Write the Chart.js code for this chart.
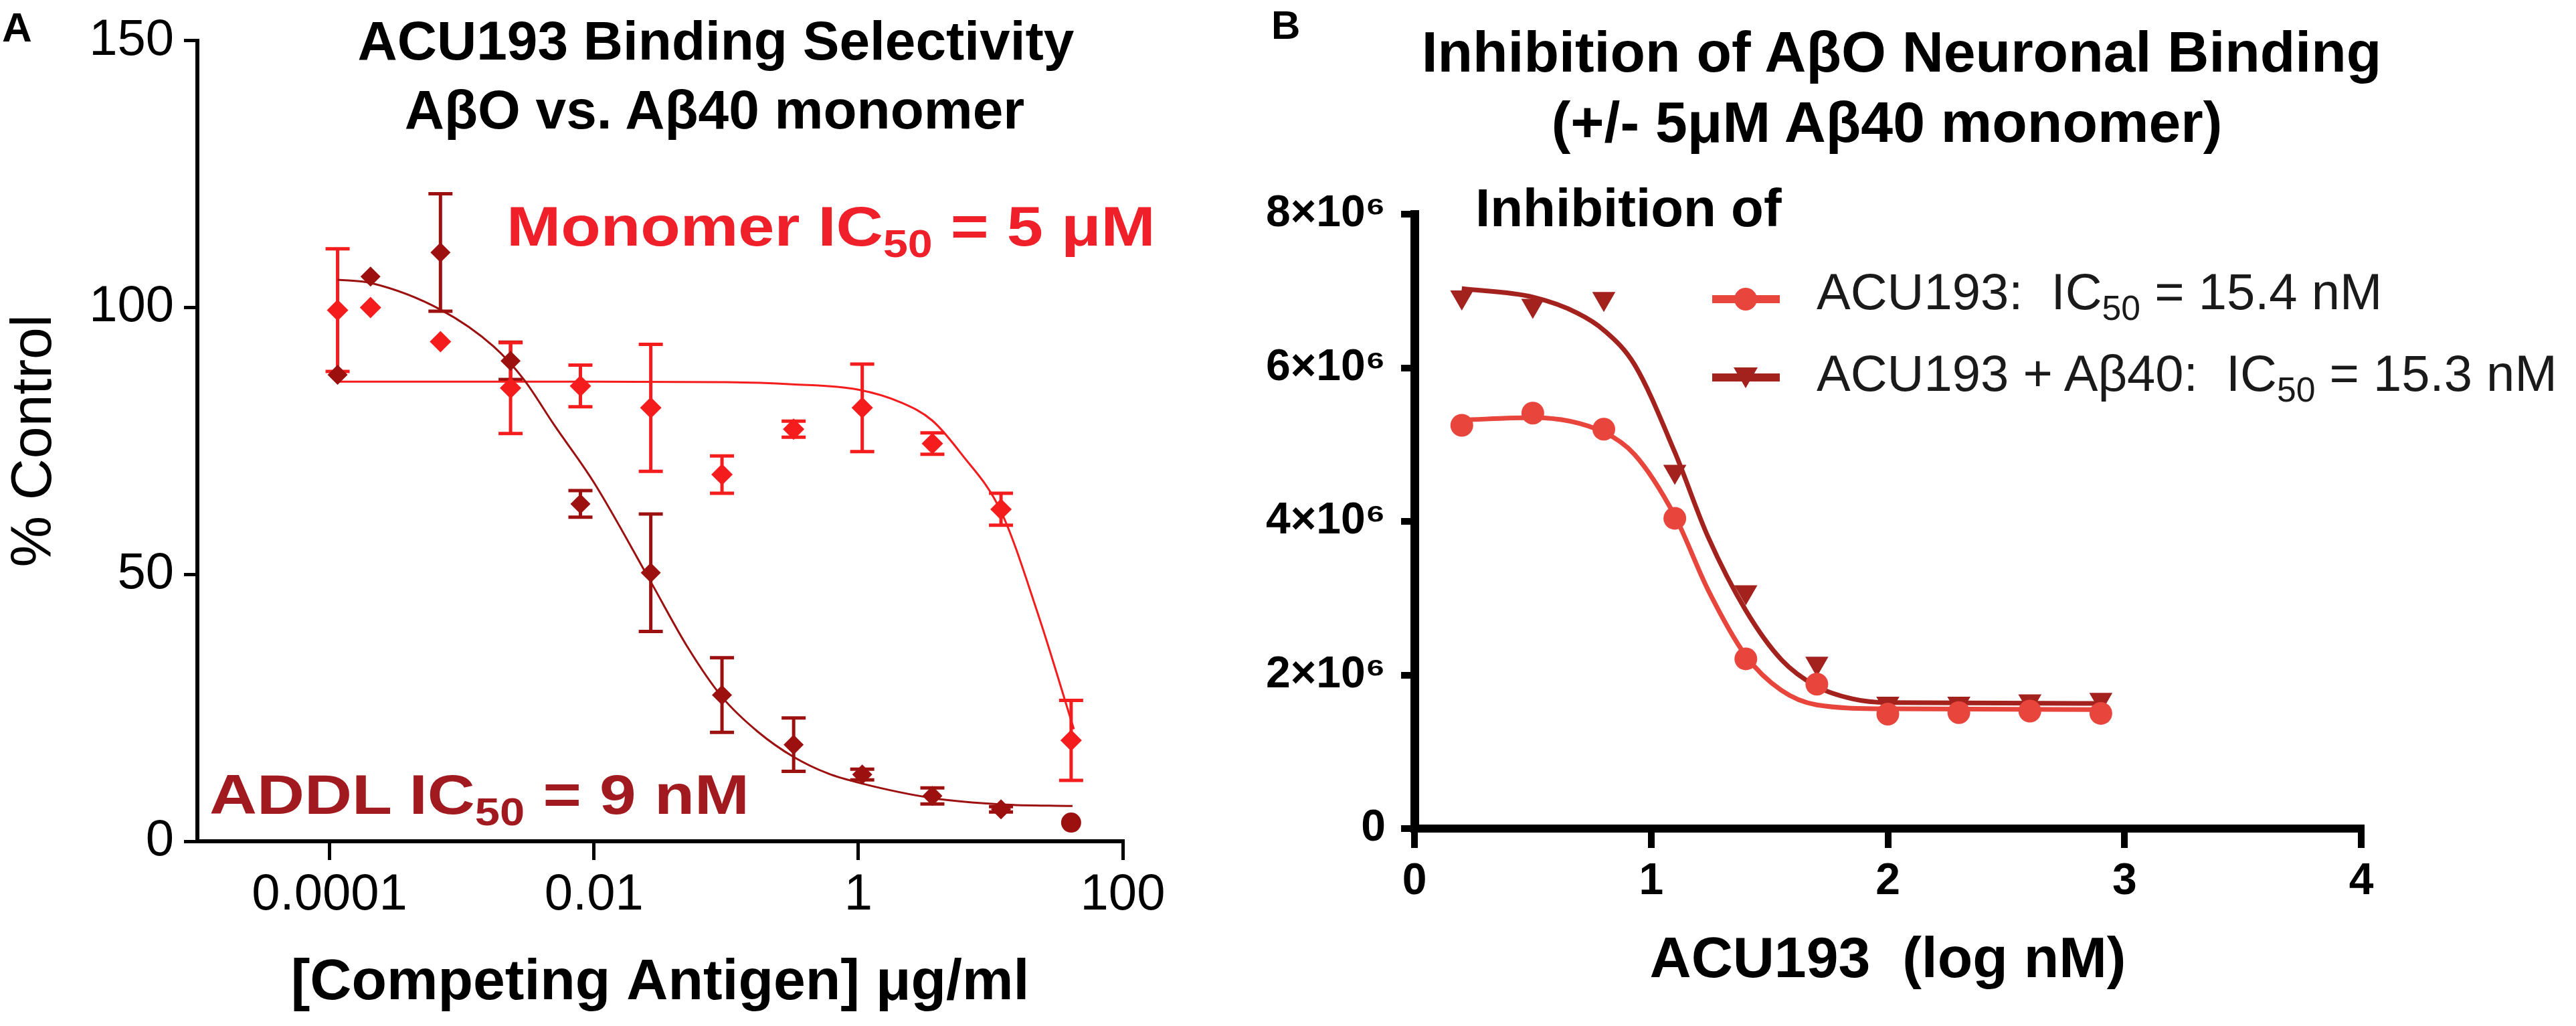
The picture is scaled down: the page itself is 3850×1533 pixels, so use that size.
<!DOCTYPE html>
<html lang="en">
<head>
<meta charset="UTF-8">
<title>ACU193 binding selectivity</title>
<style>
    body { margin: 0; background: #fff; }
    #page { position: relative; width: 3850px; height: 1533px; overflow: hidden; background: #fff;
            font-family: 'Liberation Sans', Arial, sans-serif; }
    .box { position: absolute; top: 0; height: 1533px; }
    .txt { position: absolute; white-space: nowrap; line-height: 1; }
    .b { font-weight: bold; }
    .c { transform: translateX(-50%); }
    sub { font-size: 0.68em; vertical-align: -0.3em; line-height: 0; }
    .mk { position: absolute; }
</style>
</head>
<body>
<div id="page">
    <div class="box" style="left:0;width:1850px"><canvas id="chartA"></canvas></div>
    <div class="box" style="left:1850px;width:2000px"><canvas id="chartB"></canvas></div>

    <div class="txt b" style="left:3px;top:10px;font-size:62px">A</div>
    <div class="txt b" style="left:1900px;top:8px;font-size:60px">B</div>

    <div class="txt b c" style="left:1070px;top:20px;font-size:82px">ACU193 Binding Selectivity</div>
    <div class="txt b c" style="left:1068px;top:123px;font-size:82px">A&beta;O vs. A&beta;40 monomer</div>
    <div class="txt b" style="left:757px;top:296px;font-size:84px;color:#f0202a;transform:scaleX(1.16);transform-origin:left">Monomer IC<sub>50</sub> = 5 &mu;M</div>
    <div class="txt b" style="left:313px;top:1145px;font-size:84px;color:#a11a1f;transform:scaleX(1.17);transform-origin:left">ADDL IC<sub>50</sub> = 9 nM</div>

    <div class="txt b c" style="left:2842px;top:34px;font-size:86px">Inhibition of A&beta;O Neuronal Binding</div>
    <div class="txt b c" style="left:2820px;top:139px;font-size:86px">(+/- 5&mu;M A&beta;40 monomer)</div>
    <div class="txt b" style="left:2205px;top:271px;font-size:80px">Inhibition of</div>

    <!-- legend -->
    <div class="mk" style="left:2559px;top:441px;width:101px;height:12px;background:#e8453c"></div>
    <div class="mk" style="left:2592px;top:430px;width:34px;height:34px;border-radius:50%;background:#e8453c"></div>
    <div class="txt" style="left:2715px;top:398px;font-size:76px;color:#1a1a1a">ACU193:&nbsp; IC<sub>50</sub> = 15.4 nM</div>
    <div class="mk" style="left:2559px;top:558px;width:101px;height:12px;background:#a3221e"></div>
    <div class="mk" style="left:2591px;top:549px;width:0;height:0;border-left:18px solid transparent;border-right:18px solid transparent;border-top:31px solid #a3221e"></div>
    <div class="txt" style="left:2715px;top:520px;font-size:76px;color:#1a1a1a">ACU193 + A&beta;40:&nbsp; IC<sub>50</sub> = 15.3 nM</div>
</div>

<script src="https://cdn.jsdelivr.net/npm/chart.js"></script>
<script>
    // ---- panel A: % control vs competing antigen (ug/ml) ----
    const concA = [1.15e-4, 2.04e-4, 6.9e-4, 2.34e-3, 7.9e-3, 0.0269, 0.093, 0.324, 1.07, 3.63, 12.0, 40.7];
    const monomerPct = [99.5, 100.0, 93.6, 84.9, 85.3, 81.2, 68.7, 77.2, 81.2, 74.5, 62.2, 18.9];
    const monomerErr = [11.5, 0, 0, 8.5, 3.9, 11.9, 3.5, 1.5, 8.2, 2.0, 3.0, 7.5];
    const addlPct = [87.4, 105.8, 110.3, 90.0, 63.2, 50.3, 27.4, 18.1, 12.5, 8.5, 6.0, 3.5];
    const addlErr = [0, 0, 11.0, 3.5, 2.5, 11.0, 7.0, 5.0, 1.0, 1.5, 0.5, 0];

    // fitted curves
    const monomerFitX = [1.15e-4, 0.01, 0.1, 0.316, 1.0, 2.1, 3.63, 6.0, 12.0, 22.9, 42.7];
    const monomerFitY = [86.1, 86.1, 86.0, 85.6, 84.6, 82.2, 78.8, 72.6, 61.8, 42.5, 21.0];
    const addlFitX = [1.15e-4, 2.04e-4, 6.9e-4, 1.74e-3, 2.95e-3, 5.0e-3, 0.01, 0.0269, 0.0513, 0.0933, 0.174, 0.324, 0.589, 1.07, 3.63, 12.3, 41.7];
    const addlFitY = [105.2, 104.6, 99.6, 92.7, 86.5, 78.0, 67.2, 48.6, 36.3, 27.0, 20.5, 15.8, 12.7, 10.8, 8.1, 6.9, 6.6];

    const ticksA_x = [0.0001, 0.01, 1, 100];
    const ticksA_y = [0, 50, 100, 150];

    // ---- panel B: binding signal vs ACU193 (log nM) ----
    const logB = [0.2, 0.5, 0.8, 1.1, 1.4, 1.7, 2.0, 2.3, 2.6, 2.9];
    const acu = [5.25e6, 5.41e6, 5.20e6, 4.04e6, 2.21e6, 1.88e6, 1.49e6, 1.51e6, 1.53e6, 1.50e6];
    const acuAb40 = [6.92e6, 6.81e6, 6.90e6, 4.65e6, 3.08e6, 2.15e6, 1.63e6, 1.63e6, 1.66e6, 1.68e6];

    const acuFitX = [0.2, 0.5, 0.8, 0.93, 1.1, 1.24, 1.4, 1.55, 1.7, 2.0, 2.9];
    const acuFitY = [5.32e6, 5.35e6, 5.16e6, 4.87e6, 4.07e6, 3.11e6, 2.25e6, 1.80e6, 1.61e6, 1.56e6, 1.55e6];
    const acuAbFitX = [0.2, 0.5, 0.69, 0.8, 0.93, 1.1, 1.24, 1.4, 1.55, 1.7, 1.85, 2.0, 2.9];
    const acuAbFitY = [7.03e6, 6.92e6, 6.71e6, 6.49e6, 6.04e6, 4.90e6, 3.80e6, 2.84e6, 2.20e6, 1.85e6, 1.69e6, 1.64e6, 1.63e6];

    const ticksB_y = [0, 2e6, 4e6, 6e6, 8e6];

    const FONT = "'Liberation Sans', Arial, sans-serif";
    const RED = '#f41c1c', DARK = '#9c1010';
    const CORAL = '#e8453c', MAROON = '#a3221e';

    const pts = (xs, ys) => xs.map((x, i) => ({ x: x, y: ys[i] }));

    // vertical error bars with caps, drawn under the markers
    const errorBars = {
        id: 'errorBars',
        beforeDatasetsDraw(chart) {
            const { ctx, scales } = chart;
            chart.data.datasets.forEach(ds => {
                if (!ds.errors) return;
                ctx.save();
                ctx.strokeStyle = ds.borderColor;
                ctx.lineWidth = 5;
                ds.data.forEach((p, i) => {
                    const e = ds.errors[i];
                    if (!e) return;
                    const px = scales.x.getPixelForValue(p.x);
                    const top = scales.y.getPixelForValue(p.y + e);
                    const bot = scales.y.getPixelForValue(p.y - e);
                    ctx.beginPath();
                    ctx.moveTo(px, top); ctx.lineTo(px, bot);
                    ctx.moveTo(px - 18, top); ctx.lineTo(px + 18, top);
                    ctx.moveTo(px - 18, bot); ctx.lineTo(px + 18, bot);
                    ctx.stroke();
                });
                ctx.restore();
            });
        }
    };

    Chart.defaults.font.family = FONT;
    Chart.defaults.color = '#000';

    new Chart(document.getElementById('chartA'), {
        type: 'scatter',
        data: {
            datasets: [
                {
                    label: 'ADDL',
                    data: pts(concA, addlPct),
                    errors: addlErr,
                    pointStyle: concA.map((c, i) => i === concA.length - 1 ? 'circle' : 'rectRot'),
                    pointRadius: 15,
                    backgroundColor: DARK,
                    borderColor: DARK,
                    borderWidth: 0
                },
                {
                    label: 'ADDL fit',
                    data: pts(addlFitX, addlFitY),
                    showLine: true,
                    pointRadius: 0,
                    borderColor: DARK,
                    borderWidth: 3,
                    cubicInterpolationMode: 'monotone'
                },
                {
                    label: 'Monomer',
                    data: pts(concA, monomerPct),
                    errors: monomerErr,
                    pointStyle: 'rectRot',
                    pointRadius: 16,
                    backgroundColor: RED,
                    borderColor: RED,
                    borderWidth: 0
                },
                {
                    label: 'Monomer fit',
                    data: pts(monomerFitX, monomerFitY),
                    showLine: true,
                    pointRadius: 0,
                    borderColor: RED,
                    borderWidth: 3,
                    cubicInterpolationMode: 'monotone'
                }
            ]
        },
        options: {
            responsive: true,
            maintainAspectRatio: false,
            animation: false,
            devicePixelRatio: 1,
            layout: { padding: { top: 46, right: 172, bottom: 0, left: 0 } },
            plugins: { legend: { display: false }, tooltip: { enabled: false } },
            scales: {
                x: {
                    type: 'logarithmic',
                    min: 1e-5,
                    max: 100,
                    afterBuildTicks: s => { s.ticks = ticksA_x.map(v => ({ value: v })); },
                    afterFit: s => { s.height = 276; },
                    ticks: { callback: v => String(v), font: { size: 76 }, padding: 7, maxRotation: 0, autoSkip: false },
                    grid: { drawOnChartArea: false, color: '#000', lineWidth: 5, tickLength: 28 },
                    border: { color: '#000', width: 6 },
                    title: { display: true, text: '[Competing Antigen] \u03bcg/ml', font: { size: 86, weight: 'bold' }, padding: { top: 0, bottom: 12 } }
                },
                y: {
                    min: 0,
                    max: 150,
                    afterBuildTicks: s => { s.ticks = ticksA_y.map(v => ({ value: v })); },
                    afterFit: s => { s.width = 295; },
                    ticks: { font: { size: 76 }, padding: 15 },
                    grid: { drawOnChartArea: false, color: '#000', lineWidth: 5, tickLength: 20 },
                    border: { color: '#000', width: 6 },
                    title: { display: true, text: '% Control', font: { size: 86 }, padding: { top: 1, bottom: 0 } }
                }
            }
        },
        plugins: [errorBars]
    });

    new Chart(document.getElementById('chartB'), {
        type: 'scatter',
        data: {
            datasets: [
                {
                    label: 'ACU193',
                    data: pts(logB, acu),
                    pointStyle: 'circle',
                    pointRadius: 17,
                    backgroundColor: CORAL,
                    borderColor: CORAL,
                    borderWidth: 0
                },
                {
                    label: 'ACU193 fit',
                    data: pts(acuFitX, acuFitY),
                    showLine: true,
                    pointRadius: 0,
                    borderColor: CORAL,
                    borderWidth: 7,
                    cubicInterpolationMode: 'monotone'
                },
                {
                    label: 'ACU193 + A\u03b240',
                    data: pts(logB, acuAb40),
                    pointStyle: 'triangle',
                    rotation: 180,
                    pointRadius: 20,
                    backgroundColor: MAROON,
                    borderColor: MAROON,
                    borderWidth: 0
                },
                {
                    label: 'ACU193 + A\u03b240 fit',
                    data: pts(acuAbFitX, acuAbFitY),
                    showLine: true,
                    pointRadius: 0,
                    borderColor: MAROON,
                    borderWidth: 7,
                    cubicInterpolationMode: 'monotone'
                }
            ]
        },
        options: {
            responsive: true,
            maintainAspectRatio: false,
            animation: false,
            devicePixelRatio: 1,
            layout: { padding: { top: 320, right: 321, bottom: 0, left: 0 } },
            plugins: { legend: { display: false }, tooltip: { enabled: false } },
            scales: {
                x: {
                    type: 'linear',
                    min: 0,
                    max: 4,
                    ticks: { stepSize: 1, font: { size: 66, weight: 'bold' }, padding: 11, maxRotation: 0 },
                    afterFit: s => { s.height = 295; },
                    grid: { drawOnChartArea: false, color: '#000', lineWidth: 10, tickLength: 29 },
                    border: { color: '#000', width: 12 },
                    title: { display: true, text: 'ACU193  (log nM)', font: { size: 86, weight: 'bold' }, padding: { top: 0, bottom: 45 } }
                },
                y: {
                    min: 0,
                    max: 8e6,
                    afterBuildTicks: s => { s.ticks = ticksB_y.map(v => ({ value: v })); },
                    afterFit: s => { s.width = 264; },
                    ticks: { font: { size: 66, weight: 'bold' }, padding: 23, callback: v => v === 0 ? '0' : (v / 1e6) + '\u00d710\u2076' },
                    grid: { drawOnChartArea: false, color: '#000', lineWidth: 10, tickLength: 20 },
                    border: { color: '#000', width: 13 }
                }
            }
        }
    });
</script>
</body>
</html>
